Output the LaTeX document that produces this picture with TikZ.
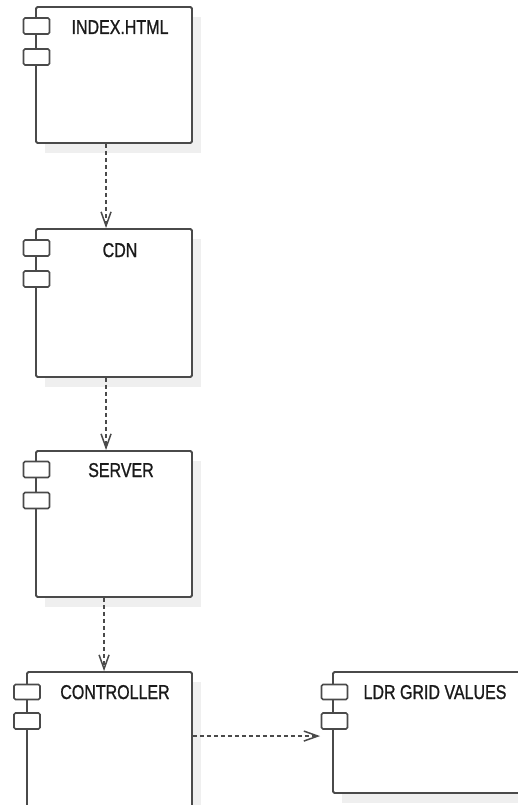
\documentclass[tikz,border=0pt]{standalone}
\usepackage{fontspec}
\newfontfamily\labfont[FakeStretch=0.8,FakeBold=1]{Liberation Sans}
\usetikzlibrary{arrows.meta,calc}
\definecolor{edge}{HTML}{4A4A4A}
\definecolor{shade}{HTML}{EFEFEF}
\definecolor{ink}{HTML}{1A1A1A}
\begin{document}
\begin{tikzpicture}[x=1pt,y=-1pt,
  comp/.style={draw=edge, line width=1.9pt, fill=white, rounded corners=1.5pt, inner sep=0pt},
  port/.style={draw=edge, line width=1.6pt, fill=white, rounded corners=1.5pt, minimum width=26pt, minimum height=16pt, inner sep=0pt},
  lab/.style={font=\labfont\fontsize{20}{20}\selectfont, text=ink, anchor=base, inner sep=0pt},
  dep/.style={draw=edge, line width=1.6pt, dash pattern=on 4pt off 3pt, -{Straight Barb[length=14pt,width=10pt,line width=1.5pt]}},
  shadowbox/.style={fill=shade, draw=none}
  ]
\useasboundingbox (0,0) rectangle (518,805);
% shadows
\fill[shadowbox] (45,17) rectangle (201,153);
\fill[shadowbox] (45,239) rectangle (201,387);
\fill[shadowbox] (45,461) rectangle (201,607);
\fill[shadowbox] (36,682) rectangle (201,880);
\fill[shadowbox] (342,682) rectangle (570,803);
% components
\node[comp, minimum width=156pt, minimum height=136pt] (idx) at (114,75) {};
\node[comp, minimum width=156pt, minimum height=148pt] (cdn) at (114,303) {};
\node[comp, minimum width=156pt, minimum height=146pt] (srv) at (114,524) {};
\node[comp, minimum width=165pt, minimum height=198pt] (ctrl) at (109.5,771) {};
\node[comp, minimum width=227pt, minimum height=121pt] (ldr) at (446.5,732.5) {};
% ports
\node[port] (idxp1) at (36.5,26) {};
\node[port] (idxp2) at (36.5,57) {};
\node[port] (cdnp1) at (36.5,248) {};
\node[port] (cdnp2) at (36.5,279) {};
\node[port] (srvp1) at (36.5,469.5) {};
\node[port] (srvp2) at (36.5,500.5) {};
\node[port, minimum height=15pt] (ctrlp1) at (27,692) {};
\node[port] (ctrlp2) at (27,721) {};
\node[port, minimum height=15pt] (ldrp1) at (334.5,692) {};
\node[port] (ldrp2) at (334.5,721) {};
% labels
\node[lab] (idxl) at (120,34) {INDEX.HTML};
\node[lab] (cdnl) at (120,257) {CDN};
\node[lab] (srvl) at (121,477) {SERVER};
\node[lab] (ctrll) at (115,699) {CONTROLLER};
\node[lab] (ldrl) at (435,699) {LDR GRID VALUES};
% dependencies
\draw[dep] ($(idx.south west)+(71,0)$) -- ($(cdn.north west)+(71,0)$);
\draw[dep] ($(cdn.south west)+(71,0)$) -- ($(srv.north west)+(71,0)$);
\draw[dep] ($(srv.south west)+(69,0)$) -- ($(ctrl.north west)+(78,0)$);
\coordinate (ldrin) at ($(ldr.north west)+(-12,65)$);
\draw[dep] ($(ctrl.north east)+(0,65)$) -- (ldrin);
\end{tikzpicture}
\end{document}
